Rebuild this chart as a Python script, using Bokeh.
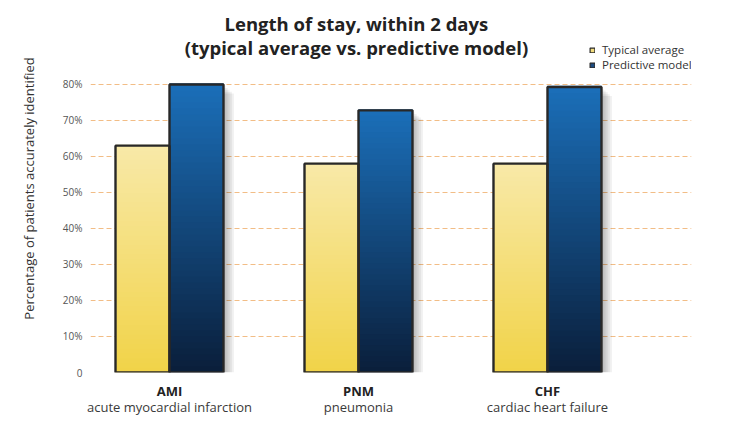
from bokeh.plotting import figure
from bokeh.models import (Range1d, FixedTicker, LinearAxis, Legend, LegendItem,
                          ColumnDataSource, Label)
from bokeh.embed import file_html
from bokeh.resources import INLINE

# ---- data ----
categories = ["AMI", "PNM", "CHF"]
descriptions = ["acute myocardial infarction", "pneumonia", "cardiac heart failure"]
typical = [63, 58, 58]
predictive = [80, 72.8, 79.3]
y_ticks = [0, 10, 20, 30, 40, 50, 60, 70, 80]
y_tick_labels = ["0", "10%", "20%", "30%", "40%", "50%", "60%", "70%", "80%"]
series_names = ["Typical average", "Predictive model"]
title_lines = ["Length of stay, within 2 days", "(typical average vs. predictive model)"]

# ---- styles ----
W, H = 728, 428
BAR_W = 0.2857
N_SLICES = 48
yellow_top, yellow_bot = (248, 233, 168), (241, 211, 72)
blue_top, blue_bot = (27, 111, 185), (10, 30, 58)
FONT = "Open Sans"


def lerp(c1, c2, t):
    return "#%02x%02x%02x" % tuple(int(round(a + (b - a) * t)) for a, b in zip(c1, c2))


p = figure(width=W, height=H, output_backend="svg", toolbar_location=None,
           x_range=Range1d(-0.418, 2.762), y_range=Range1d(0, 102.2),
           min_border_left=90, min_border_right=37, min_border_top=4,
           min_border_bottom=56)
p.outline_line_color = None
p.background_fill_color = "white"
p.border_fill_color = "white"

xs = list(range(len(categories)))
x_typ = [x - BAR_W / 2 for x in xs]
x_pred = [x + BAR_W / 2 for x in xs]

# legend proxies: tiny swatch-style glyphs hidden behind the first bars
leg_typ = p.vbar(x=x_typ[:1], bottom=[typical[0] * 0.4], top=[typical[0] * 0.45],
                 width=BAR_W * 0.3, fill_color="#f2dc7c",
                 line_color="#2a2a2a", line_width=1.2)
leg_pred = p.vbar(x=x_pred[:1], bottom=[predictive[0] * 0.4], top=[predictive[0] * 0.45],
                  width=BAR_W * 0.3, fill_color="#1c4b80",
                  line_color="#2a2a2a", line_width=1.2)

# soft drop shadows
for k in range(1, 6):
    off_x = 0.011 * k
    off_y = 0.5 * k
    for xpos, vals in ((x_typ, typical), (x_pred, predictive)):
        p.vbar(x=[x + off_x for x in xpos], width=BAR_W, top=[v - off_y for v in vals],
               bottom=[-off_y * 1.6 for _ in vals], fill_color="#000000",
               fill_alpha=0.06, line_color=None)

# gradient bars via thin slices
for xpos, vals, ctop, cbot in ((x_typ, typical, yellow_top, yellow_bot),
                                (x_pred, predictive, blue_top, blue_bot)):
    sx, sb, st, sc = [], [], [], []
    for x, v in zip(xpos, vals):
        for i in range(N_SLICES):
            sx.append(x)
            sb.append(v * i / N_SLICES)
            st.append(v * (i + 1) / N_SLICES + v * 0.004)
            sc.append(lerp(cbot, ctop, (i + 0.5) / N_SLICES))
    src = ColumnDataSource(dict(x=sx, bottom=sb, top=st, color=sc))
    p.vbar(x="x", bottom="bottom", top="top", width=BAR_W, fill_color="color",
           line_color=None, source=src)

p.vbar(x=x_typ, top=typical, width=BAR_W, fill_color=None,
       line_color="#282828", line_width=2.4)
p.vbar(x=x_pred, top=predictive, width=BAR_W, fill_color=None,
       line_color="#282828", line_width=2.4)

legend = Legend(items=[LegendItem(label=series_names[0], renderers=[leg_typ]),
                       LegendItem(label=series_names[1], renderers=[leg_pred])],
                location=(499, 300), glyph_width=6, glyph_height=6,
                label_height=13, label_standoff=7, spacing=0, padding=0, margin=0,
                label_text_font=FONT, label_text_font_size="11.5px",
                label_text_color="#333333", border_line_color=None,
                background_fill_alpha=0)
p.add_layout(legend)

# grid & y axis
p.xgrid.visible = False
p.ygrid.ticker = FixedTicker(ticks=y_ticks)
p.ygrid.grid_line_color = "#f2bd86"
p.ygrid.grid_line_dash = "5 3"
p.ygrid.grid_line_width = 1

p.yaxis.ticker = FixedTicker(ticks=y_ticks)
p.yaxis.major_label_overrides = {t: l for t, l in zip(y_ticks, y_tick_labels)}
p.yaxis.axis_line_color = None
p.yaxis.major_tick_line_color = None
p.yaxis.minor_tick_line_color = None
p.yaxis.major_tick_out = 0
p.yaxis.major_tick_in = 0
p.yaxis.minor_tick_out = 0
p.yaxis.minor_tick_in = 0
p.yaxis.major_label_text_font = FONT
p.yaxis.major_label_text_font_size = "10px"
p.yaxis.major_label_text_color = "#555555"
p.yaxis.major_label_standoff = 8
p.yaxis.axis_label = "Percentage of patients accurately identified"
p.yaxis.axis_label_text_font = FONT
p.yaxis.axis_label_text_font_size = "13px"
p.yaxis.axis_label_text_font_style = "normal"
p.yaxis.axis_label_text_color = "#333333"
p.yaxis.axis_label_standoff = 22

# x axes: bold code + description
p.xaxis.ticker = FixedTicker(ticks=xs)
p.xaxis.major_label_overrides = {x: c for x, c in zip(xs, categories)}
p.xaxis.axis_line_color = None
p.xaxis.major_tick_line_color = None
p.xaxis.minor_tick_line_color = None
p.xaxis.major_tick_out = 0
p.xaxis.major_tick_in = 0
p.xaxis.minor_tick_out = 0
p.xaxis.minor_tick_in = 0
p.xaxis.major_label_text_font = FONT
p.xaxis.major_label_text_font_style = "bold"
p.xaxis.major_label_text_font_size = "13px"
p.xaxis.major_label_text_color = "#222222"
p.xaxis.major_label_standoff = 9

ax2 = LinearAxis(ticker=FixedTicker(ticks=xs),
                 major_label_overrides={x: d for x, d in zip(xs, descriptions)},
                 axis_line_color=None, major_tick_line_color=None,
                 minor_tick_line_color=None, major_tick_out=0, minor_tick_out=0,
                 major_tick_in=0, minor_tick_in=0,
                 major_label_text_font=FONT,
                 major_label_text_font_size="13px", major_label_text_color="#3a3a3a",
                 major_label_standoff=-5)
p.add_layout(ax2, "below")

# two-line title in the space above the 80% line
for i, t in enumerate(title_lines):
    p.add_layout(Label(x=0.989, y=96.9 - i * 6.6, text=t, text_align="center",
                       text_baseline="middle", text_font=FONT, text_font_style="bold",
                       text_font_size="18.5px", text_color="#222222"))

open("out.html", "w").write(file_html(p, INLINE))
